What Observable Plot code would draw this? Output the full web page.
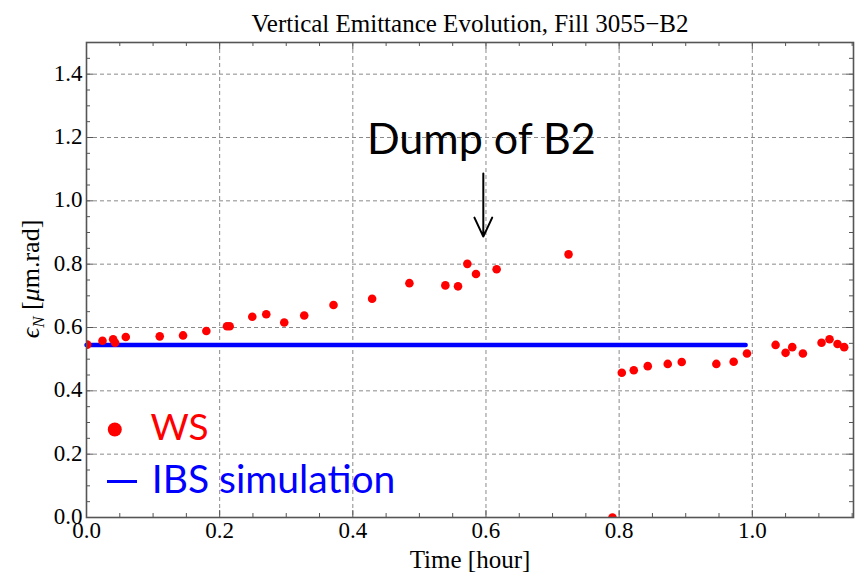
<!DOCTYPE html>
<html>
<head>
<meta charset="utf-8">
<script src="https://cdn.jsdelivr.net/npm/d3@7"></script>
<script src="https://cdn.jsdelivr.net/npm/@observablehq/plot@0.6"></script>
<style>
  html, body { margin: 0; padding: 0; background: white; }
</style>
</head>
<body>
<div id="chart"></div>
<script>
// Wire-scanner (WS) measurements: time [hour] and vertical emittance [µm.rad]
const wsTime = [0.001, 0.024, 0.040, 0.043, 0.059, 0.110, 0.145, 0.180, 0.211, 0.215,
  0.249, 0.270, 0.297, 0.327, 0.371, 0.429, 0.485, 0.539, 0.558, 0.572, 0.585, 0.616,
  0.724, 0.790, 0.804, 0.822, 0.843, 0.873, 0.894, 0.946, 0.972, 0.992, 1.035, 1.050,
  1.060, 1.076, 1.104, 1.116, 1.128, 1.138];
const wsEmit = [0.546, 0.558, 0.563, 0.552, 0.570, 0.572, 0.575, 0.589, 0.604, 0.604,
  0.634, 0.642, 0.616, 0.638, 0.671, 0.691, 0.740, 0.733, 0.730, 0.801, 0.769, 0.784,
  0.831, 0.000, 0.457, 0.465, 0.478, 0.485, 0.491, 0.485, 0.492, 0.518, 0.545, 0.520,
  0.538, 0.518, 0.552, 0.563, 0.548, 0.538];
// IBS simulation
const ibsTime = [0.0, 0.99];
const ibsEmit = [0.545, 0.545];

// Axis ticks
const xTicks = [0.0, 0.2, 0.4, 0.6, 0.8, 1.0];
const xTickLabels = ["0.0", "0.2", "0.4", "0.6", "0.8", "1.0"];
const xMinor = [0.05, 0.1, 0.15, 0.25, 0.3, 0.35, 0.45, 0.5, 0.55, 0.65, 0.7, 0.75, 0.85, 0.9, 0.95, 1.05, 1.1, 1.15];
const yTicks = [0.0, 0.2, 0.4, 0.6, 0.8, 1.0, 1.2, 1.4];
const yTickLabels = ["0.0", "0.2", "0.4", "0.6", "0.8", "1.0", "1.2", "1.4"];
const yMinor = [0.05, 0.1, 0.15, 0.25, 0.3, 0.35, 0.45, 0.5, 0.55, 0.65, 0.7, 0.75, 0.85, 0.9, 0.95, 1.05, 1.1, 1.15, 1.25, 1.3, 1.35, 1.45];
const xDomain = [0, 1.152];
const yDomain = [0, 1.5];

// Annotation
const dumpLabel = "Dump of B2";
const dumpX = 0.593;

const ws = wsTime.map((t, i) => ({t, v: wsEmit[i]}));
const ibs = ibsTime.map((t, i) => ({t, v: ibsEmit[i]}));
const xt = xTicks.map((t, i) => ({t, label: xTickLabels[i]}));
const yt = yTicks.map((v, i) => ({v, label: yTickLabels[i]}));

const W = 861, H = 583;
const mL = 86, mR = 8, mT = 42, mB = 66;
const pxX = (xDomain[1] - xDomain[0]) / (W - mL - mR);
const pxY = (yDomain[1] - yDomain[0]) / (H - mT - mB);
const major = 7, minor = 4;
const frameColor = "#555";
const gridStyle = {stroke: "#8a8a8a", strokeOpacity: 1, strokeWidth: 1, strokeDasharray: "4,3"};
const serif = "'Liberation Serif', 'Times New Roman', serif";
const sans = "Lato, 'Open Sans', sans-serif";

const plot = Plot.plot({
  width: W, height: H,
  marginLeft: mL, marginRight: mR, marginTop: mT, marginBottom: mB,
  x: {domain: xDomain, axis: null},
  y: {domain: yDomain, axis: null},
  style: {fontFamily: serif, background: "white", overflow: "visible"},
  marks: [
    Plot.gridX(xTicks.filter(d => d > 0), gridStyle),
    Plot.gridY(yTicks.filter(d => d > 0), gridStyle),
    // inward ticks, bottom & top
    Plot.ruleX(xTicks, {x: d => d, y1: yDomain[0], y2: yDomain[0] + major * pxY, stroke: frameColor}),
    Plot.ruleX(xMinor, {x: d => d, y1: yDomain[0], y2: yDomain[0] + minor * pxY, stroke: frameColor}),
    Plot.ruleX(xTicks, {x: d => d, y1: yDomain[1], y2: yDomain[1] - major * pxY, stroke: frameColor}),
    Plot.ruleX(xMinor, {x: d => d, y1: yDomain[1], y2: yDomain[1] - minor * pxY, stroke: frameColor}),
    // inward ticks, left & right
    Plot.ruleY(yTicks, {y: d => d, x1: xDomain[0], x2: xDomain[0] + major * pxX, stroke: frameColor}),
    Plot.ruleY(yMinor, {y: d => d, x1: xDomain[0], x2: xDomain[0] + minor * pxX, stroke: frameColor}),
    Plot.ruleY(yTicks, {y: d => d, x1: xDomain[1], x2: xDomain[1] - major * pxX, stroke: frameColor}),
    Plot.ruleY(yMinor, {y: d => d, x1: xDomain[1], x2: xDomain[1] - minor * pxX, stroke: frameColor}),
    // data
    Plot.line(ibs, {x: "t", y: "v", stroke: "#0000ff", strokeWidth: 4.5}),
    Plot.dot(ws, {x: "t", y: "v", r: 4.3, fill: "#ff0000", stroke: "none", clip: true}),
    Plot.frame({stroke: frameColor, strokeWidth: 1.6}),
    // tick labels
    Plot.text(xt, {x: "t", y: () => yDomain[0], text: "label", dy: 4, lineAnchor: "top", fontSize: 23, fill: "black"}),
    Plot.text(yt, {x: () => xDomain[0], y: "v", text: "label", dx: -4, dy: -1, textAnchor: "end", fontSize: 23, fill: "black"}),
    // title & x label
    Plot.text([0], {frameAnchor: "top", text: () => "Vertical Emittance Evolution, Fill 3055\u2212B2", dy: -28, fontSize: 25, fill: "black"}),
    Plot.text([0], {frameAnchor: "bottom", text: () => "Time [hour]", dy: 50, fontSize: 25, fill: "black"}),
    // annotation
    Plot.text([0], {x: () => dumpX, y: () => 1.19, text: () => dumpLabel, fontFamily: sans, fontSize: 43, fill: "black"}),
    Plot.arrow([0], {x1: () => 0.596, x2: () => 0.596, y1: () => 1.086, y2: () => 0.887, stroke: "black", strokeWidth: 2, headLength: 16, headAngle: 50}),
    // legend
    Plot.dot([0], {x: () => 0.0425, y: () => 0.278, r: 7, fill: "#ff0000", stroke: "none"}),
    Plot.text([0], {x: () => 0.096, y: () => 0.283, text: () => "WS", textAnchor: "start", fontFamily: sans, fontSize: 37, fill: "#ff0000"}),
    Plot.ruleY([0.1137], {x1: 0.0315, x2: 0.0766, stroke: "#0000ff", strokeWidth: 3}),
    Plot.text([0], {x: () => 0.098, y: () => 0.118, text: () => "IBS simulation", textAnchor: "start", fontFamily: sans, fontSize: 39, fill: "#0000ff"})
  ]
});

// y-axis label with italic epsilon, subscript N
const svg = d3.select(plot);
const yl = svg.append("text")
  .attr("transform", `translate(39,${279}) rotate(-90)`)
  .attr("text-anchor", "middle")
  .attr("font-family", serif)
  .attr("font-size", 26)
  .attr("fill", "black");
yl.append("tspan").attr("font-style", "italic").text("\u03F5");
yl.append("tspan").attr("font-style", "italic").attr("font-size", 17).attr("dy", 5).text("N");
yl.append("tspan").attr("dy", -5).text(" [");
yl.append("tspan").attr("font-style", "italic").text("\u03BC");
yl.append("tspan").text("m.rad]");

document.getElementById("chart").appendChild(plot);
</script>
</body>
</html>
